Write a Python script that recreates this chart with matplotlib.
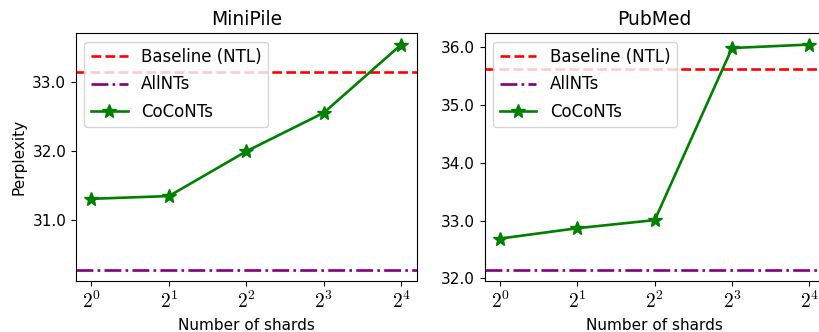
import matplotlib
matplotlib.use("Agg")
import matplotlib.pyplot as plt
from matplotlib.ticker import MultipleLocator, FormatStrFormatter

plt.rcParams["mathtext.fontset"] = "cm"
plt.rcParams["font.family"] = ["DejaVu Sans"]

# --- data ---
shard_exponents = [0, 1, 2, 3, 4]
shard_labels = [r"$2^{%d}$" % e for e in shard_exponents]

datasets = ["MiniPile", "PubMed"]
baseline_ntl = [33.145, 35.62]
allnts = [30.28, 32.15]
coconts = [
    [31.31, 31.35, 32.00, 32.56, 33.55],
    [32.69, 32.87, 33.01, 35.99, 36.05],
]

fig = plt.figure(figsize=(8.19, 3.32), dpi=100)
positions = [
    [0.0928, 0.1536, 0.4160, 0.7461],
    [0.5918, 0.1536, 0.4153, 0.7461],
]

for i, name in enumerate(datasets):
    ax = fig.add_axes(positions[i])
    ax.axhline(baseline_ntl[i], color="red", linestyle="--", linewidth=1.9,
               label="Baseline (NTL)")
    ax.axhline(allnts[i], color="purple", linestyle="-.", linewidth=1.9,
               label="AllNTs")
    ax.plot(shard_exponents, coconts[i], color="green", marker="*",
            markersize=10, linewidth=1.9, label="CoCoNTs")
    ax.set_xlim(-0.2, 4.2)
    ax.set_xticks(shard_exponents)
    ax.set_xticklabels(shard_labels, fontsize=14)
    ax.yaxis.set_major_locator(MultipleLocator(1.0))
    ax.yaxis.set_major_formatter(FormatStrFormatter("%.1f"))
    ax.tick_params(axis="y", labelsize=11)
    ax.set_title(name, fontsize=13.5)
    ax.set_xlabel("Number of shards", fontsize=11)
    if i == 0:
        ax.set_ylabel("Perplexity", fontsize=11)
    ax.legend(loc="upper left", fontsize=12, labelspacing=0.55,
              handlelength=2.2)

fig.savefig("out.png", dpi=100)
